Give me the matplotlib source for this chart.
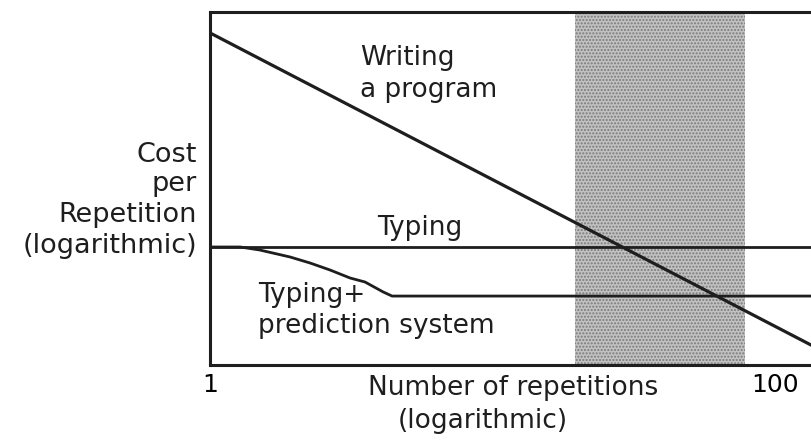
import matplotlib.pyplot as plt
import numpy as np

plt.rcParams['font.family'] = ['DejaVu Sans']

# cost per repetition in arbitrary log units (typing = 1)
writing_n = [1, 160]
writing_cost = [28.8, 28.8 / 160]

typing_n = [1, 160]
typing_cost = [1.0, 1.0]

predict_n = [1, 1.28, 1.50, 1.92, 2.26, 2.66, 3.13, 3.54, 4.10, 4.41, 160]
predict_cost = [1.0, 1.0, 0.954, 0.855, 0.778, 0.697, 0.615, 0.577, 0.494, 0.463, 0.463]

shade_range = [19.6, 78.3]

W, H = 811, 443
fig = plt.figure(figsize=(W / 100, H / 100), dpi=100)
ax = fig.add_axes([210 / W, 78 / H, 620 / W, 353 / H])
ax.set_xscale('log')
ax.set_yscale('log')
ax.set_xlim(1, 10 ** (620 / 282.5))
ax.set_ylim(10 ** (-118 / 146.7), 10 ** (235 / 146.7))

ax.axvspan(shade_range[0], shade_range[1], facecolor='#c2c2c2', edgecolor='#7a7a7a',
           hatch='.....', linewidth=0, zorder=0)

ax.plot(writing_n, writing_cost, color='#1e1e1e', lw=2.3)
ax.plot(typing_n, typing_cost, color='#1e1e1e', lw=2.0)
ax.plot(predict_n, predict_cost, color='#1e1e1e', lw=2.0)

for s in ax.spines.values():
    s.set_linewidth(2.2)
    s.set_color('#1e1e1e')

ax.set_xticks([1, 100])
ax.set_xticklabels(['1', '100'])
ax.xaxis.set_minor_locator(plt.NullLocator())
ax.yaxis.set_minor_locator(plt.NullLocator())
ax.set_yticks([])
ax.tick_params(axis='x', length=0, pad=6, labelsize=18)


def label(px, py, s, ha='left', size=19):
    # px, py: left/right edge and baseline in picture pixels
    fig.text(px / W, 1 - py / H, s, fontsize=size, ha=ha, va='baseline', color='#1e1e1e')


label(360, 65, 'Writing')
label(360, 97, 'a program')
label(377, 235, 'Typing')
label(258, 302, 'Typing+')
label(258, 333, 'prediction system')

label(368, 395, 'Number of repetitions')
label(398, 428, '(logarithmic)')

for text, y in zip(['Cost', 'per', 'Repetition', '(logarithmic)'], [162, 191, 222, 253]):
    label(197, y, text, ha='right', size=19.5)

fig.savefig('out.png', dpi=100)
